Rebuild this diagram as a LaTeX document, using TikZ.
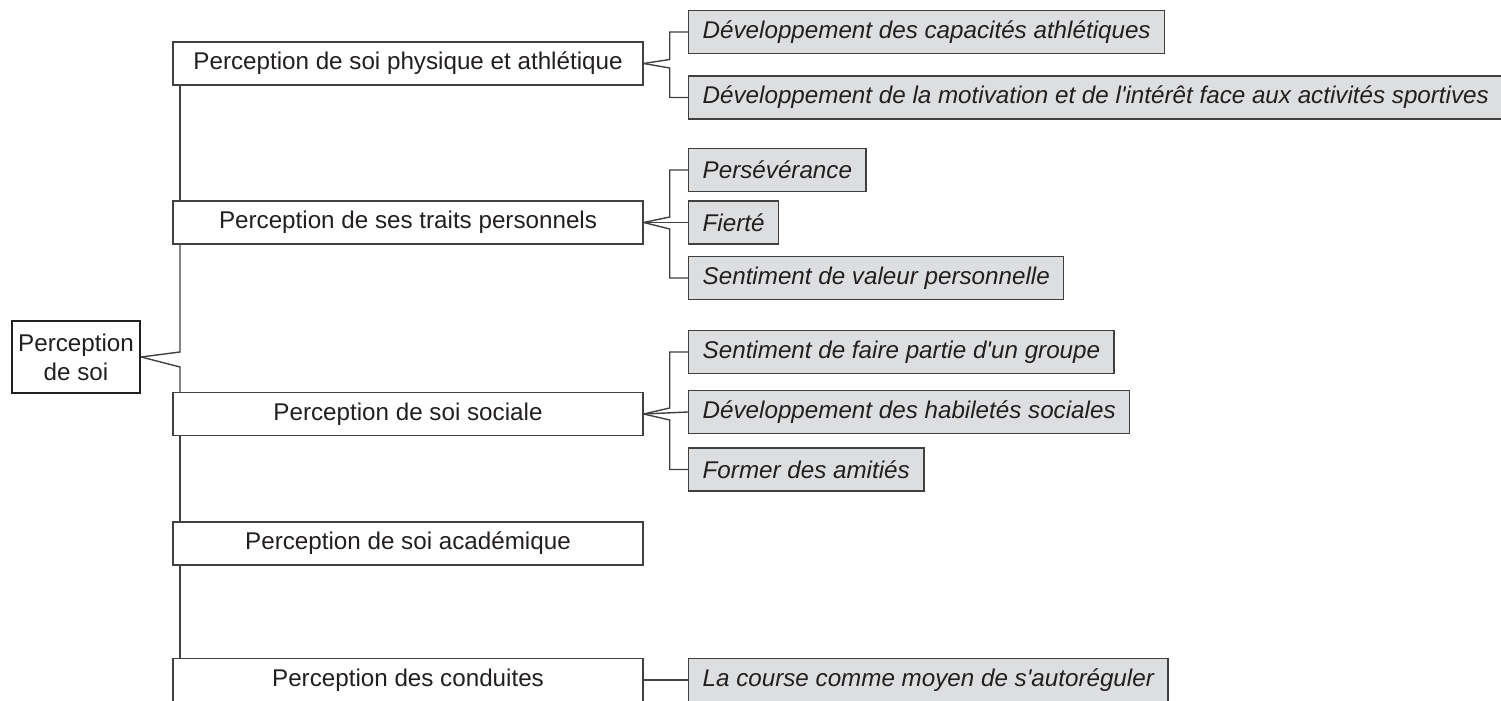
\documentclass[tikz,border=0pt]{standalone}
\usepackage{fontspec}
\setmainfont{Liberation Sans}[Ligatures=TeXOff]
\usepackage{tikz}
\usetikzlibrary{positioning}

\definecolor{boxgray}{RGB}{221,222,224}
\definecolor{linegray}{RGB}{64,64,64}
\definecolor{inkdark}{RGB}{35,31,32}

\begin{document}
\begin{tikzpicture}[x=0.5pt, y=-0.5pt, font=\fontsize{12.1}{14.5}\selectfont, text=inkdark,
    rootbox/.style={draw=inkdark, line width=1.25pt, fill=white, align=center, minimum width=64pt, minimum height=36pt, inner sep=1pt},
    topic/.style={draw=linegray, line width=0.7pt, fill=white, minimum width=235pt, minimum height=21.5pt, inner sep=0pt},
    aspect/.style={draw=linegray, line width=0.7pt, fill=boxgray, anchor=west, minimum height=21.5pt, inner xsep=7pt, inner ysep=0pt, font=\fontsize{12.1}{14.5}\selectfont\itshape},
    link/.style={draw=linegray, line width=0.7pt}]
  \useasboundingbox (0,0) rectangle (1501,701);

  \node[rootbox] (soi) at (76,357) {Perception\\de soi};

  \node[topic] (phys) at (408,63.5) {Perception de soi physique et athlétique};
  \node[topic] (trait) at (408,222.5) {Perception de ses traits personnels};
  \node[topic] (soc) at (408,414) {Perception de soi sociale};
  \node[topic] (acad) at (408,543.5) {Perception de soi académique};
  \node[topic] (cond) at (408,680) {Perception des conduites};

  \node[aspect] (athl) at (688,32) {Développement des capacités athlétiques};
  \node[aspect] (motiv) at (688,97.5) {Développement de la motivation et de l'intérêt face aux activités sportives};

  \node[aspect] (perse) at (688,170) {Persévérance};
  \node[aspect] (fiert) at (688,222.5) {Fierté};
  \node[aspect] (valeur) at (688,278) {Sentiment de valeur personnelle};

  \node[aspect] (groupe) at (688,352) {Sentiment de faire partie d'un groupe};
  \node[aspect] (habil) at (688,412) {Développement des habiletés sociales};
  \node[aspect] (amis) at (688,469.5) {Former des amitiés};

  \node[aspect] (course) at (688,680) {La course comme moyen de s'autoréguler};

  % spine
  \coordinate (jup) at (180,352);
  \coordinate (jdn) at (180,367);
  \draw[link] (soi.east) -- (jup) -- (jup |- trait.south);
  \draw[link] (jup |- trait.north) -- (jup |- phys.south);
  \draw[link] (soi.east) -- (jdn) -- (jdn |- soc.north);
  \draw[link] (jdn |- soc.south) -- (jdn |- acad.north);
  \draw[link] (jdn |- acad.south) -- (jdn |- cond.north);

  % forks
  \draw[link] (phys.east) -- ([xshift=13pt,yshift=2pt]phys.east) |- (athl.west);
  \draw[link] (phys.east) -- ([xshift=13pt,yshift=-2.25pt]phys.east) |- (motiv.west);

  \draw[link] (trait.east) -- ([xshift=13pt,yshift=2.75pt]trait.east) |- (perse.west);
  \draw[link] (trait.east) -- (fiert.west);
  \draw[link] (trait.east) -- ([xshift=13pt,yshift=-3.25pt]trait.east) |- (valeur.west);

  \draw[link] (soc.east) -- ([xshift=13pt,yshift=3pt]soc.east) |- (groupe.west);
  \draw[link] (soc.east) -- (habil.west);
  \draw[link] (soc.east) -- ([xshift=13pt,yshift=-3pt]soc.east) |- (amis.west);

  \draw[link] (cond.east) -- (course.west);
\end{tikzpicture}
\end{document}
